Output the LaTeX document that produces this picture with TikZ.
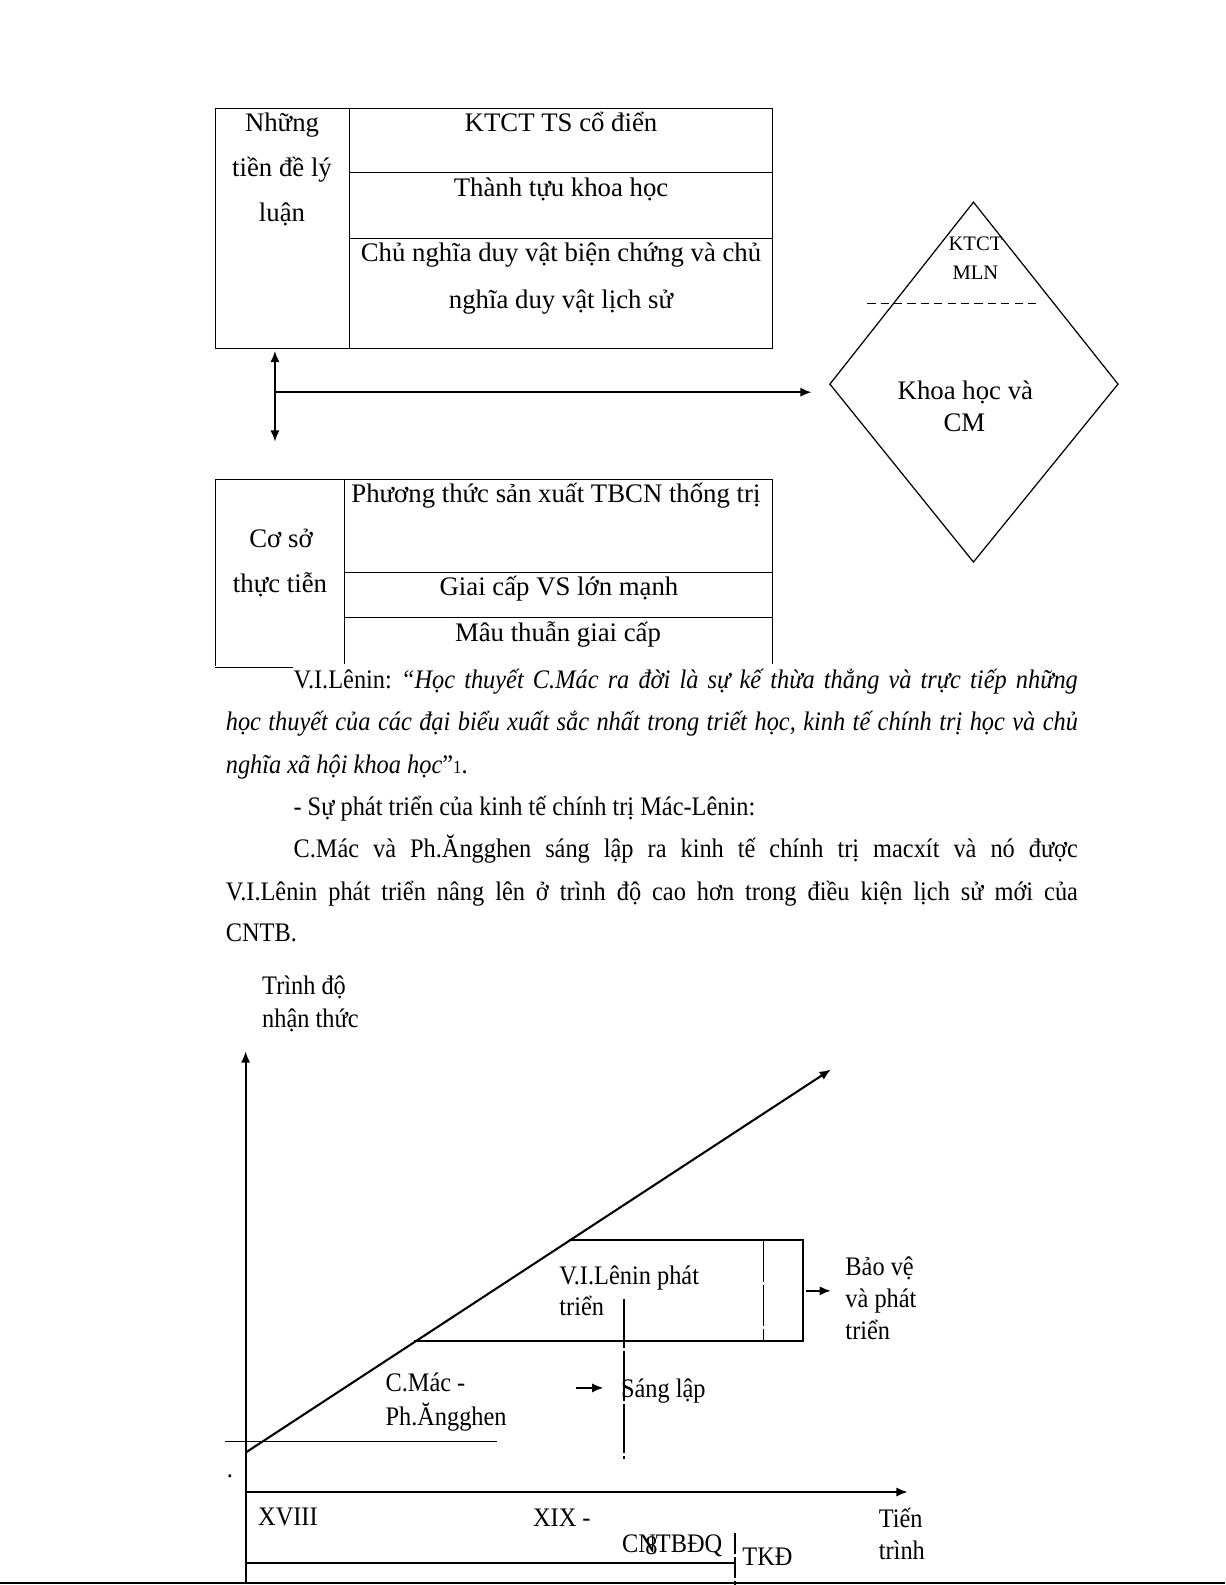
\documentclass[tikz,border=0pt]{standalone}
\usepackage{fontspec}
\setmainfont{Liberation Serif}
\newfontfamily\narrowfont{Liberation Serif}[FakeStretch=0.91]
\usetikzlibrary{arrows.meta, positioning}
\frenchspacing

\begin{document}
\begin{tikzpicture}[x=0.4909pt, y=-0.4909pt,
	ln/.style={line width=0.6pt},
	arr/.style={-{Latex[length=5.5pt,width=4.5pt]}, line width=1pt},
	cell/.style={font=\fontsize{13}{15}\selectfont, anchor=mid, inner sep=0pt, yshift=-2pt},
	tag/.style={font=\fontsize{10}{12}\selectfont, anchor=mid, inner sep=0pt, yshift=-1.5pt},
	txt/.style={font=\narrowfont\fontsize{13}{15}\selectfont, anchor=mid west, inner sep=0pt, yshift=-2pt}]

	\useasboundingbox[fill=white] (0,0) rectangle (1212,1568);

	% ---------- tien de ly luan ----------
	\draw[ln] (213,107) rectangle (764,345);
	\draw[ln] (346,107) -- (346,345);
	\draw[ln] (346,171) -- (764,171);
	\draw[ln] (346,236) -- (764,236);
	\node[cell] (tdA) at (279,121) {Những};
	\node[cell] (tdB) at (279,166) {tiền đề lý};
	\node[cell] (tdC) at (279,210) {luận};
	\node[cell] (ktct) at (555,121) {KTCT TS cổ điển};
	\node[cell] (ttkh) at (555,186) {Thành tựu khoa học};
	\node[cell] (cnA) at (555,250) {Chủ nghĩa duy vật biện chứng và chủ};
	\node[cell] (cnB) at (555,296) {nghĩa duy vật lịch sử};

	% ---------- mui ten ----------
	\coordinate (vTop) at (272,347);
	\coordinate (vBot) at (272,437);
	\coordinate (vMid) at (272,388);
	\coordinate (hEnd) at (803,388);
	\draw[line width=1pt, {Latex[length=5.5pt,width=4.5pt]}-{Latex[length=5.5pt,width=4.5pt]}] (vTop) -- (vBot);
	\draw[arr] (vMid) -- (hEnd);

	% ---------- co so thuc tien ----------
	\draw[ln] (213,659) -- (213,474) -- (764,474) -- (764,657);
	\draw[ln] (213,660) -- (290,660);
	\draw[ln] (341,474) -- (341,657);
	\draw[ln] (341,566) -- (764,566);
	\draw[ln] (341,611) -- (764,611);
	\node[cell] (ptsx) at (550,488) {Phương thức sản xuất TBCN thống trị};
	\node[cell] (csA) at (278,533) {Cơ sở};
	\node[cell] (csB) at (277,577) {thực tiễn};
	\node[cell] (gcvs) at (553,580) {Giai cấp VS lớn mạnh};
	\node[cell] (mtgc) at (552,626) {Mâu thuẫn giai cấp};

	% ---------- hinh thoi ----------
	\coordinate (dT) at (963,200);
	\coordinate (dR) at (1106,380);
	\coordinate (dB) at (963,556);
	\coordinate (dL) at (821,380);
	\draw[ln] (dT) -- (dR) -- (dB) -- (dL) -- cycle;
	\draw[ln, dash pattern=on 4pt off 2.5pt] (858,300) -- (1030,300);
	\node[tag] (kA) at (965,240) {KTCT};
	\node[tag] (kB) at (965,269) {MLN};
	\node[cell] (khA) at (955,386) {Khoa học và};
	\node[cell] (khB) at (954,418) {CM};

	% ---------- doan van ----------
	\node[txt] (l1) at (290,672) {\makebox[380.9pt][s]{V.I.Lênin: \textit{“Học thuyết C.Mác ra đời là sự kế thừa thẳng và trực tiếp những}}};
	\node[txt] (l2) at (223,714) {\makebox[413.8pt][s]{\itshape học thuyết của các đại biểu xuất sắc nhất trong triết học, kinh tế chính trị học và chủ}};
	\node[txt] (l3) at (223,756) {\textit{nghĩa xã hội khoa học}”{\fontsize{9}{10}\selectfont 1}.};
	\node[txt] (l4) at (290,798) {- Sự phát triển của kinh tế chính trị Mác-Lênin:};
	\node[txt] (l5) at (290,840) {\makebox[380.9pt][s]{C.Mác và Ph.Ăngghen sáng lập ra kinh tế chính trị macxít và nó được}};
	\node[txt] (l6) at (223,882) {\makebox[413.8pt][s]{V.I.Lênin phát triển nâng lên ở trình độ cao hơn trong điều kiện lịch sử mới của}};
	\node[txt] (l7) at (223,923) {CNTB.};

	% ---------- do thi ----------
	\coordinate (yBot) at (243,1566);
	\coordinate (yTop) at (243,1040);
	\coordinate (xL) at (243,1476);
	\coordinate (xR) at (898,1476);
	\coordinate (gS) at (243,1437);
	\coordinate (gE) at (822,1058);
	\draw[arr] (yBot) -- (yTop);
	\draw[arr] (xL) -- (xR);
	\draw[arr] (gS) -- (gE);
	\draw[line width=1pt] (563,1227) -- (794,1227) -- (794,1327) -- (410,1327);
	\draw[ln, dash pattern=on 20pt off 1.5pt] (755,1227) -- (755,1327);
	\draw[arr] (797,1277) -- (822,1277);
	\draw[line width=0.8pt, dash pattern=on 24pt off 1.5pt] (617,1285) -- (617,1443);
	\draw[arr] (570,1373) -- (597,1373);
	\draw[ln] (223,1426) -- (492,1426);
	\draw[line width=1pt] (243,1546) -- (727,1546);
	\draw[ln, dash pattern=on 10pt off 1.5pt] (727,1517) -- (727,1568);
	\draw[line width=1.2pt] (0,1566) -- (1212,1566);

	\node[txt] (tdo) at (259,975) {Trình độ};
	\node[txt] (nth) at (259,1008) {nhận thức};
	\node[txt] (lnA) at (553,1262) {V.I.Lênin phát};
	\node[txt] (lnB) at (553,1293) {triển};
	\node[txt] (bvA) at (836,1253) {Bảo vệ};
	\node[txt] (bvB) at (836,1285) {và phát};
	\node[txt] (bvC) at (836,1316) {triển};
	\node[txt] (cmA) at (381,1368) {C.Mác -};
	\node[txt] (cmB) at (381,1401) {Ph.Ăngghen};
	\node[txt] (sl) at (614,1374) {Sáng lập};
	\node[txt] (dot) at (224,1453) {.};
	\node[txt] (t18) at (255,1500) {XVIII};
	\node[txt] (t19) at (527,1501) {XIX -};
	\node[txt] (cntb) at (615,1527) {CNTBĐQ};
	\node[txt] (pg) at (638,1529) {8};
	\node[txt] (tkd) at (734,1540) {TKĐ};
	\node[txt] (tt1) at (869,1502) {Tiến};
	\node[txt] (tt2) at (869,1534) {trình};
\end{tikzpicture}
\end{document}
